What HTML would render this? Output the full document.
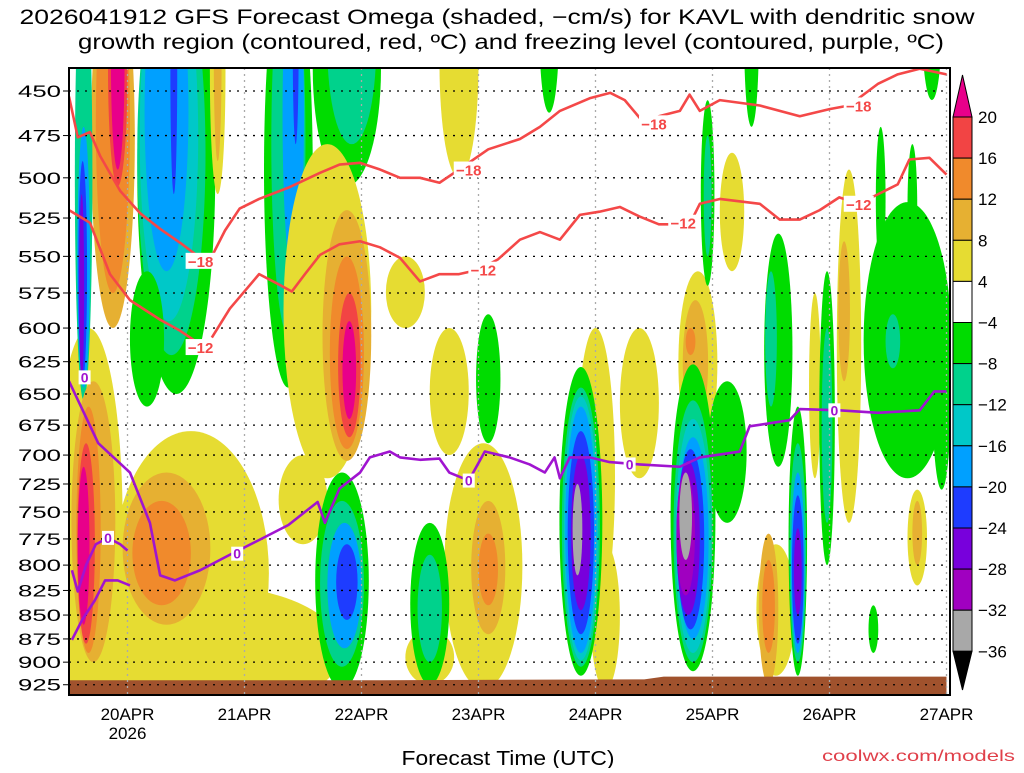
<!DOCTYPE html>
<html><head><meta charset="utf-8"><style>
html,body{margin:0;padding:0;background:#fff;}
body{width:1024px;height:768px;overflow:hidden;font-family:"Liberation Sans",sans-serif;}
svg text{font-family:"Liberation Sans",sans-serif;}
</style></head><body>
<svg id="chart" width="1024" height="768" viewBox="0 0 1024 768" xmlns="http://www.w3.org/2000/svg">
<defs><clipPath id="plotclip"><rect x="69" y="68" width="881" height="627"/></clipPath></defs>
<text x="497" y="24" text-anchor="middle" font-size="21" textLength="955" lengthAdjust="spacingAndGlyphs">2026041912 GFS Forecast Omega (shaded, −cm/s) for KAVL with dendritic snow</text>
<text x="511" y="49" text-anchor="middle" font-size="21" textLength="866" lengthAdjust="spacingAndGlyphs">growth region (contoured, red, ºC) and freezing level (contoured, purple, ºC)</text>
<g id="shading" clip-path="url(#plotclip)"></g>
<g id="grid"></g>
<g id="lines" clip-path="url(#plotclip)"></g>
<g id="labels"></g>
<rect x="69" y="68" width="881" height="627" fill="none" stroke="#000" stroke-width="2"/>
<g id="axes"></g>
<g id="cbar"></g>
<text x="508" y="765" text-anchor="middle" font-size="20" textLength="213" lengthAdjust="spacingAndGlyphs">Forecast Time (UTC)</text>
<text x="1015" y="761" text-anchor="end" font-size="16" fill="#e0404a" textLength="193" lengthAdjust="spacingAndGlyphs">coolwx.com/models</text>
</svg>
<script>
// ---- data ----
const pressureTicks = [450,475,500,525,550,575,600,625,650,675,700,725,750,775,800,825,850,875,900,925];
const dayHours = [12,36,60,84,108,132,156,180];
const dayLabels = ["20APR","21APR","22APR","23APR","24APR","25APR","26APR","27APR"];
const levelColors = ["#e8008a","#f24444","#f08a2c","#e6b032","#e6dc32","#00dc00","#00d28c","#00c8c8","#00a0ff","#1e3cff","#7800dc","#a000c0","#a8a8a8"];
const cbarLabels = ["20","16","12","8","4","−4","−8","−12","−16","−20","−24","−28","−32","−36"];
// blobs: [hour, halfWidthHours, pTop, pBottom, levelIndex]
const blobsLeft = [
 [4,7,600,960,4],[25,16,680,960,4],[28,28,820,960,4],
 [9,4.5,380,600,3],[9,3.5,380,575,2],[10,2,380,505,1],[10,1.4,380,495,0],
 [3,1.8,380,655,6],[3,1.3,470,645,8],[2.8,0.9,490,640,9],[2.6,0.5,510,640,10],
 [5,4.5,640,900,3],[4,2.5,660,890,2],[3.5,1.8,690,880,1],[3,1.2,710,860,0],
 [20,9,715,860,3],[19,6,740,840,2]
];
const blobs21Apr = [
 [22,8,380,650,5],[21,7,380,620,6],[20.5,6,380,595,7],[20,4.5,380,560,8],[21.5,0.7,380,510,9],
 [16,3.5,560,660,5],[30.5,1.6,380,510,4],[30.5,0.8,380,490,3],
 [45,5,380,645,5],[45,3.5,380,605,6],[46,2.2,380,565,8],[46.5,0.6,380,480,9],
 [57,7,380,505,5],[58,5,380,480,6]
];
const blobs22Apr = [
 [53,9,480,720,4],[48,5,700,780,4],[57,5,520,705,3],[57,3.5,550,695,2],[57.5,2.3,575,685,1],[57.5,1.4,595,670,0],
 [56,5.5,715,930,5],[56,4.5,740,905,6],[56.5,3.5,760,885,8],[57,2.2,780,855,9]
];
const blobs23Apr = [
 [85,8,690,930,4],[86,3.5,740,870,3],[86,2,770,840,2],[80,4,380,500,4],[69,4,550,600,4],[78,4,600,700,4],[74,5,865,925,4],
 [74,4,760,925,5],[74,2.5,790,900,6],[86,2.5,590,690,5],[98.5,2,380,462,5]
];
const blobs24Apr = [
 [108,4,600,860,4],[110,3,780,930,4],
 [105,4.4,629,915,5],[105,3.9,645,905,6],[105,3.5,652,898,7],[105,3.2,660,890,8],[105,2.7,680,870,9],[105,2,700,845,10],[104.3,1,725,810,12]
];
const blobs25Apr = [
 [117,4,600,720,4],[129,4,560,700,4],[128.5,2.6,580,675,3],[127.5,1,600,620,2],
 [135,4,640,760,5],
 [128,4.6,627,910,5],[128,4,655,900,6],[128,3.6,670,890,7],[128,3.2,685,875,8],[127.5,2.8,695,865,9],[127,2.4,705,850,10],[126.5,1.9,715,830,11],[126.5,1.3,715,795,12],
 [131,1.4,455,570,5],[131,0.8,475,550,6],[136,2.5,485,560,4],[140,1.5,380,470,5]
];
const blobs26Apr = [
 [145,4,780,915,4],[143.5,2,770,925,3],[143.5,1.3,795,890,2],
 [145.5,2.9,535,710,5],[144,1.2,560,660,6],
 [149.5,1.9,660,915,5],[149.5,1.7,690,900,6],[149.5,1.4,715,890,8],[149.5,1.2,735,880,9],[149.5,0.8,765,850,10],
 [153,1.2,575,720,4],[160,2.5,495,760,4],[159,1.2,540,640,3],
 [155.5,1.6,560,800,5],[155.5,1.1,600,760,6],
 [172,9,515,720,5],[166.5,1,470,560,5],[173,1,480,560,5],[169,1.5,590,630,6],[179,2,560,730,5],
 [174,2,730,820,4],[174,1,740,800,3],[177,2,380,455,5],[165,1,840,890,5]
];
const groundHours = [0,60,118,122,180];
const groundPres = [920,920,919,916,916];
// contour lines: hours / hPa
const frzMainH = [0,6,12.5,16.6,18.7,21.7,26.9,33,39,45,51,52.5,55.5,59.7,61.7,65.8,67.9,72,76,78,82,85.3,90.4,94.5,97.6,99.6,100.7,102.7,106.8,110.9,117,125.3,129.4,137.6,139.6,147.8,149.9,158,166,174.5,177.5,180];
const frzMainP = [640,690,715,760,810,815,805,790,776,762,741,760,729,715,702,697,702,704,703,715,722,697,702,708,715,702,720,702,702,706,708,710,702,697,676,671,662,663,665,663,648,648];
const frzLoopAH = [0.6,1.8,3.5,5.5,8,10.5,12];
const frzLoopAP = [805,826,800,780,774,780,786];
const frzLoopBH = [0.6,2.7,5.3,7.4,10,12.5];
const frzLoopBP = [876,855,835,815,815,820];
const m18aH = [0,1.8,4.3,6.4,10.5,14.6,18.7,22.8,26.9];
const m18aP = [453,476,473,487,508,522,532,541,551];
const m18bH = [29.3,32,35,39,45,51.5,55.5,59.7,63.8,67.9,72,76,80,86,92.5,96.6,100.7,106.8,111,114,118,121,125.3,127.3,129.4,133.5,141.7,149.9,156,160,166,170,174.5,180];
const m18bP = [550,533,519,513,506,497,492,491,495,500,500,503,495,483,477,470,461,454,451,455,468,464,461,452,461,455,458,464,460,458,446,441,438,441];
const m12aH = [0,4.3,8.4,12.5,18.7,22.8,26.9];
const m12aP = [520,528,562,580,594,602,612];
const m12bH = [29.3,33,39,43,45.7,48.4,51.5,55.5,59.7,63.8,67.9,72,76,80,84,88,92.5,96.6,100.7,104.8,108.8,113,117,121,127.3,129.4,133.5,141.7,145.8,149.9,154,158,162,166,170,172.4,176.5,180];
const m12bP = [607,586,562,569,574,562,549,542,540,544,551,567,562,562,559,552,539,534,539,523,521,518,524,529,529,516,513,516,526,526,520,512,516,510,504,489,488,498];
const labelsRed = [[27,553,"−18"],[82,495,"−18"],[120,468,"−18"],[162,458,"−18"],[27,614,"−12"],[85,559,"−12"],[126,528,"−12"],[162,516,"−12"]];
const labelsFrz = [[3.2,637,"0"],[8,774,"0"],[34.5,789,"0"],[82,722,"0"],[115,708,"0"],[157,663,"0"]];

// ---- axis functions ----
const X0=69, PXH=4.875, Y0=91, YK=824;
function xs(h){return X0+h*PXH;}
function ys(p){return Y0+Math.log(p/450)*YK;}
const NS="http://www.w3.org/2000/svg";
function mk(tag,attrs,parent){const e=document.createElementNS(NS,tag);for(const k in attrs)e.setAttribute(k,attrs[k]);parent.appendChild(e);return e;}

// shading
const shading=document.getElementById('shading');
[blobsLeft,blobs21Apr,blobs22Apr,blobs23Apr,blobs24Apr,blobs25Apr,blobs26Apr].forEach(group=>{
 group.forEach(b=>{
  const y1=ys(b[2]),y2=ys(b[3]);
  const e=mk('ellipse',{cx:xs(b[0]),cy:(y1+y2)/2,rx:b[1]*PXH,ry:(y2-y1)/2,fill:levelColors[b[4]]},shading);
  
  
 });
});
// ground
let gpts=groundHours.map((h,i)=>xs(h)+','+ys(groundPres[i])).join(' ');
gpts+=' '+xs(180)+',700 '+xs(0)+',700';
const ground=mk('polygon',{points:gpts,fill:'#a0522d'},shading);



// grid
const grid=document.getElementById('grid');
pressureTicks.forEach(p=>{
 const g=mk('line',{x1:69,x2:950,y1:ys(p),y2:ys(p),stroke:'#000','stroke-width':1.3,'stroke-dasharray':'2,6'},grid);
 
 
});
dayHours.forEach(h=>{
 const g=mk('line',{x1:xs(h),x2:xs(h),y1:68,y2:695,stroke:'#aaa','stroke-width':1.3,'stroke-dasharray':'2,4'},grid);
 
 
});

// lines
const lines=document.getElementById('lines');
function poly(H,P,color,name){
 const pl=mk('polyline',{points:H.map((h,i)=>xs(h)+','+ys(P[i])).join(' '),fill:'none',stroke:color,'stroke-width':2.6,'stroke-linejoin':'round'},lines);
 
 
}
poly(m18aH,m18aP,'#f44848','minus18-contour');
poly(m18bH,m18bP,'#f44848','minus18-contour');
poly(m12aH,m12aP,'#f44848','minus12-contour');
poly(m12bH,m12bP,'#f44848','minus12-contour');
poly(frzMainH,frzMainP,'#a014d0','freezing-level-contour');
poly(frzLoopAH,frzLoopAP,'#a014d0','freezing-level-contour');
poly(frzLoopBH,frzLoopBP,'#a014d0','freezing-level-contour');

const labels=document.getElementById('labels');
labelsRed.forEach(l=>{
 const bg=mk('rect',{x:xs(l[0])-15,y:ys(l[1])-8,width:30,height:16,fill:'#fff'},labels);
 
 
 const t=mk('text',{x:xs(l[0]),y:ys(l[1])+6,'text-anchor':'middle','font-size':15,'font-weight':'bold',fill:'#f44848'},labels);
 t.textContent=l[2];
 
 
});
labelsFrz.forEach(l=>{
 const bg=mk('rect',{x:xs(l[0])-6,y:ys(l[1])-7,width:12,height:14,fill:'#fff'},labels);
 
 
 const t=mk('text',{x:xs(l[0]),y:ys(l[1])+5,'text-anchor':'middle','font-size':14,'font-weight':'bold',fill:'#a014d0'},labels);
 t.textContent=l[2];
 
 
});

// axes
const axes=document.getElementById('axes');
pressureTicks.forEach(p=>{
 const t=mk('text',{x:61,y:ys(p)+6,'text-anchor':'end','font-size':17,textLength:43,lengthAdjust:'spacingAndGlyphs'},axes);
 t.textContent=String(p);
 
 
 const tk=mk('line',{x1:63,x2:69,y1:ys(p),y2:ys(p),stroke:'#000','stroke-width':1},axes);
 
 
});
dayHours.forEach((h,i)=>{
 const t=mk('text',{x:xs(h),y:720,'text-anchor':'middle','font-size':17},axes);
 t.textContent=dayLabels[i];
 
 
});
const yr=mk('text',{x:xs(12),y:739,'text-anchor':'middle','font-size':17},axes);
yr.textContent='2026';



// colorbar
const cbar=document.getElementById('cbar');
const CB0=117, CBS=41.1, CX=953, CW=19;
const tri1=mk('polygon',{points:`${CX},${CB0} ${CX+CW},${CB0} ${CX+CW/2},75`,fill:levelColors[0],stroke:'#000','stroke-width':1},cbar);


for(let i=0;i<13;i++){
 const r=mk('rect',{x:CX,y:CB0+i*CBS,width:CW,height:CBS,fill:i<4?levelColors[i+1]:(i===4?'#fff':levelColors[i]),stroke:'#000','stroke-width':1},cbar);
 
 
}
const tri2=mk('polygon',{points:`${CX},${CB0+13*CBS} ${CX+CW},${CB0+13*CBS} ${CX+CW/2},690`,fill:'#000',stroke:'#000','stroke-width':1},cbar);


cbarLabels.forEach((s,i)=>{
 const t=mk('text',{x:978,y:CB0+i*CBS+6,'font-size':17},cbar);
 t.textContent=s;
 
 
});
</script>
</body></html>
